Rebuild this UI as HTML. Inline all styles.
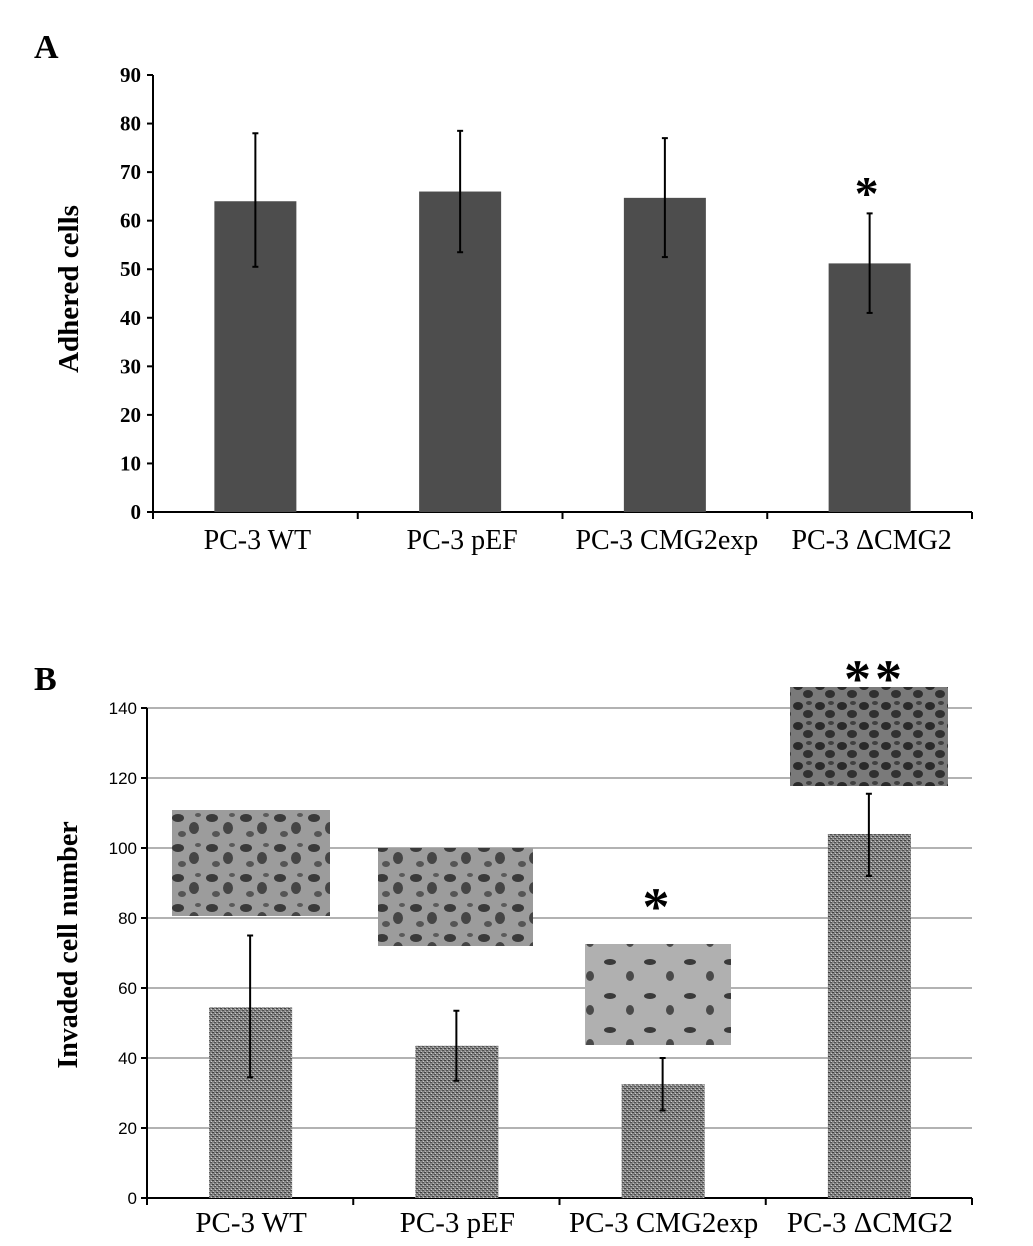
<!DOCTYPE html>
<html><head><meta charset="utf-8"><style>
html,body{margin:0;padding:0;background:#fff;}
svg{display:block;}
text{font-family:"Liberation Serif",serif;}
</style></head><body>
<svg id="c" width="1033" height="1246" xmlns="http://www.w3.org/2000/svg">
<defs>
<pattern id="tex" width="4" height="4" patternUnits="userSpaceOnUse">
<rect width="4" height="4" fill="#858585"/>
<rect x="0" y="0" width="2" height="1" fill="#404040"/>
<rect x="2" y="2" width="2" height="1" fill="#505050"/>
<rect x="1" y="3" width="1" height="1" fill="#bbb"/>
<rect x="3" y="1" width="1" height="1" fill="#ccc"/>
</pattern>
<pattern id="cells" width="34" height="30" patternUnits="userSpaceOnUse">
<rect width="34" height="30" fill="#9c9c9c"/>
<ellipse cx="8" cy="8" rx="6" ry="4" fill="#3a3a3a"/>
<ellipse cx="24" cy="18" rx="5" ry="6" fill="#454545"/>
<ellipse cx="12" cy="24" rx="4" ry="3" fill="#555"/>
<ellipse cx="28" cy="5" rx="3" ry="2" fill="#5a5a5a"/>
</pattern>
<pattern id="cellsDense" width="22" height="20" patternUnits="userSpaceOnUse">
<rect width="22" height="20" fill="#7a7a7a"/>
<ellipse cx="6" cy="6" rx="5" ry="4" fill="#2a2a2a"/>
<ellipse cx="16" cy="14" rx="5" ry="4" fill="#303030"/>
<ellipse cx="17" cy="3" rx="3" ry="2" fill="#404040"/>
</pattern>
<pattern id="cellsSparse" width="40" height="34" patternUnits="userSpaceOnUse">
<rect width="40" height="34" fill="#b0b0b0"/>
<ellipse cx="10" cy="10" rx="6" ry="3" fill="#3a3a3a"/>
<ellipse cx="30" cy="24" rx="4" ry="5" fill="#4a4a4a"/>
</pattern>
</defs>
<text x="34" y="58" font-size="34" font-weight="bold">A</text>
<text x="34" y="690" font-size="34" font-weight="bold">B</text>
<g id="ga"></g>
<g id="gb"></g>
</svg>
<script>
const categories = ["PC-3 WT","PC-3 pEF","PC-3 CMG2exp","PC-3 \u0394CMG2"];
const adhMeans = [64, 66, 64.7, 51.2];
const adhLow = [50.5, 53.5, 52.5, 41];
const adhHigh = [78, 78.5, 77, 61.5];
const adhTicks = [0,10,20,30,40,50,60,70,80,90];
const invMeans = [54.5, 43.5, 32.5, 104];
const invLow = [34.5, 33.5, 25, 92];
const invHigh = [75, 53.5, 40, 115.5];
const invTicks = [0,20,40,60,80,100,120,140];

const NS="http://www.w3.org/2000/svg";
function mk(p,tag,attrs,txt){const e=document.createElementNS(NS,tag);for(const k in attrs)e.setAttribute(k,attrs[k]);if(txt!==undefined)e.textContent=txt;p.appendChild(e);return e;}

// Panel A
(function(){
const g=document.getElementById('ga');
const x0=153,x1=972,y0=512,yTop=75,max=90;
const y=v=>y0-(v/max)*(y0-yTop);
const cw=(x1-x0)/categories.length;
const xc=i=>x0+cw*(i+0.5);
let e;
e=mk(g,'line',{x1:x0,y1:yTop,x2:x0,y2:y0,stroke:'#000','stroke-width':2});

e=mk(g,'line',{x1:x0-6,y1:y0,x2:x1,y2:y0,stroke:'#000','stroke-width':2});

adhTicks.forEach(t=>{
 mk(g,'line',{x1:x0-6,y1:y(t),x2:x0,y2:y(t),stroke:'#000','stroke-width':2});
 e=mk(g,'text',{x:x0-12,y:y(t)+7,'font-size':21,'font-weight':'bold','text-anchor':'end'},t);
 
});
for(let i=0;i<=categories.length;i++) mk(g,'line',{x1:x0+cw*i,y1:y0,x2:x0+cw*i,y2:y0+7,stroke:'#000','stroke-width':2});
categories.forEach((c,i)=>{
 e=mk(g,'rect',{x:xc(i)-41,y:y(adhMeans[i]),width:82,height:y0-y(adhMeans[i]),fill:'#4d4d4d'});
 
 e=mk(g,'line',{x1:xc(i),y1:y(adhLow[i]),x2:xc(i),y2:y(adhHigh[i]),stroke:'#000','stroke-width':2});
 
 mk(g,'line',{x1:xc(i)-3,y1:y(adhHigh[i]),x2:xc(i)+3,y2:y(adhHigh[i]),stroke:'#000','stroke-width':2});
 mk(g,'line',{x1:xc(i)-3,y1:y(adhLow[i]),x2:xc(i)+3,y2:y(adhLow[i]),stroke:'#000','stroke-width':2});
 e=mk(g,'text',{x:xc(i)+2,y:549,'font-size':28,'text-anchor':'middle'},c);
 
});
e=mk(g,'text',{x:xc(3)-3,y:y(adhHigh[3])-4,'font-size':48,'font-weight':'bold','text-anchor':'middle'},'*');

e=mk(g,'text',{x:0,y:0,'font-size':29,'font-weight':'bold','text-anchor':'middle',transform:'translate(78,289) rotate(-90)'},'Adhered cells');

})();

// Panel B
(function(){
const g=document.getElementById('gb');
const x0=147,x1=972,y0=1198,yTop=708,max=140;
const y=v=>y0-(v/max)*(y0-yTop);
const cw=(x1-x0)/categories.length;
const xc=i=>x0+cw*(i+0.5);
let e;
invTicks.forEach(t=>{
 if(t>0){e=mk(g,'line',{x1:x0,y1:y(t),x2:x1,y2:y(t),stroke:'#999','stroke-width':1.5});
 }
 mk(g,'line',{x1:x0-6,y1:y(t),x2:x0,y2:y(t),stroke:'#000','stroke-width':2});
 e=mk(g,'text',{x:x0-10,y:y(t)+6,'font-size':17,'text-anchor':'end','style':'font-family:"Liberation Sans",sans-serif'},t);
 
});
e=mk(g,'line',{x1:x0,y1:yTop,x2:x0,y2:y0,stroke:'#000','stroke-width':2});

e=mk(g,'line',{x1:x0-6,y1:y0,x2:x1,y2:y0,stroke:'#000','stroke-width':2});

for(let i=0;i<=categories.length;i++) mk(g,'line',{x1:x0+cw*i,y1:y0,x2:x0+cw*i,y2:y0+7,stroke:'#000','stroke-width':2});
const imgs=[[172,810,158,106,'cells'],[378,848,155,98,'cells'],[585,944,146,101,'cellsSparse'],[790,687,158,99,'cellsDense']];
categories.forEach((c,i)=>{
 e=mk(g,'rect',{x:xc(i)-41,y:y(invMeans[i]),width:83,height:y0-y(invMeans[i]),fill:'url(#tex)'});
 
 const im=imgs[i];
 e=mk(g,'rect',{x:im[0],y:im[1],width:im[2],height:im[3],fill:'url(#'+im[4]+')'});
 
 e=mk(g,'line',{x1:xc(i),y1:y(invLow[i]),x2:xc(i),y2:y(invHigh[i]),stroke:'#000','stroke-width':2});
 
 mk(g,'line',{x1:xc(i)-3,y1:y(invHigh[i]),x2:xc(i)+3,y2:y(invHigh[i]),stroke:'#000','stroke-width':2});
 mk(g,'line',{x1:xc(i)-3,y1:y(invLow[i]),x2:xc(i)+3,y2:y(invLow[i]),stroke:'#000','stroke-width':2});
 e=mk(g,'text',{x:xc(i)+1,y:1232,'font-size':29,'text-anchor':'middle'},c);
 
});
e=mk(g,'text',{x:656,y:925,'font-size':54,'font-weight':'bold','text-anchor':'middle'},'*');

e=mk(g,'text',{x:875,y:697,'font-size':54,'font-weight':'bold','text-anchor':'middle','letter-spacing':'4'},'**');

e=mk(g,'text',{x:0,y:0,'font-size':28,'font-weight':'bold','text-anchor':'middle',transform:'translate(77,945) rotate(-90)'},'Invaded cell number');

})();
</script>
</body></html>
